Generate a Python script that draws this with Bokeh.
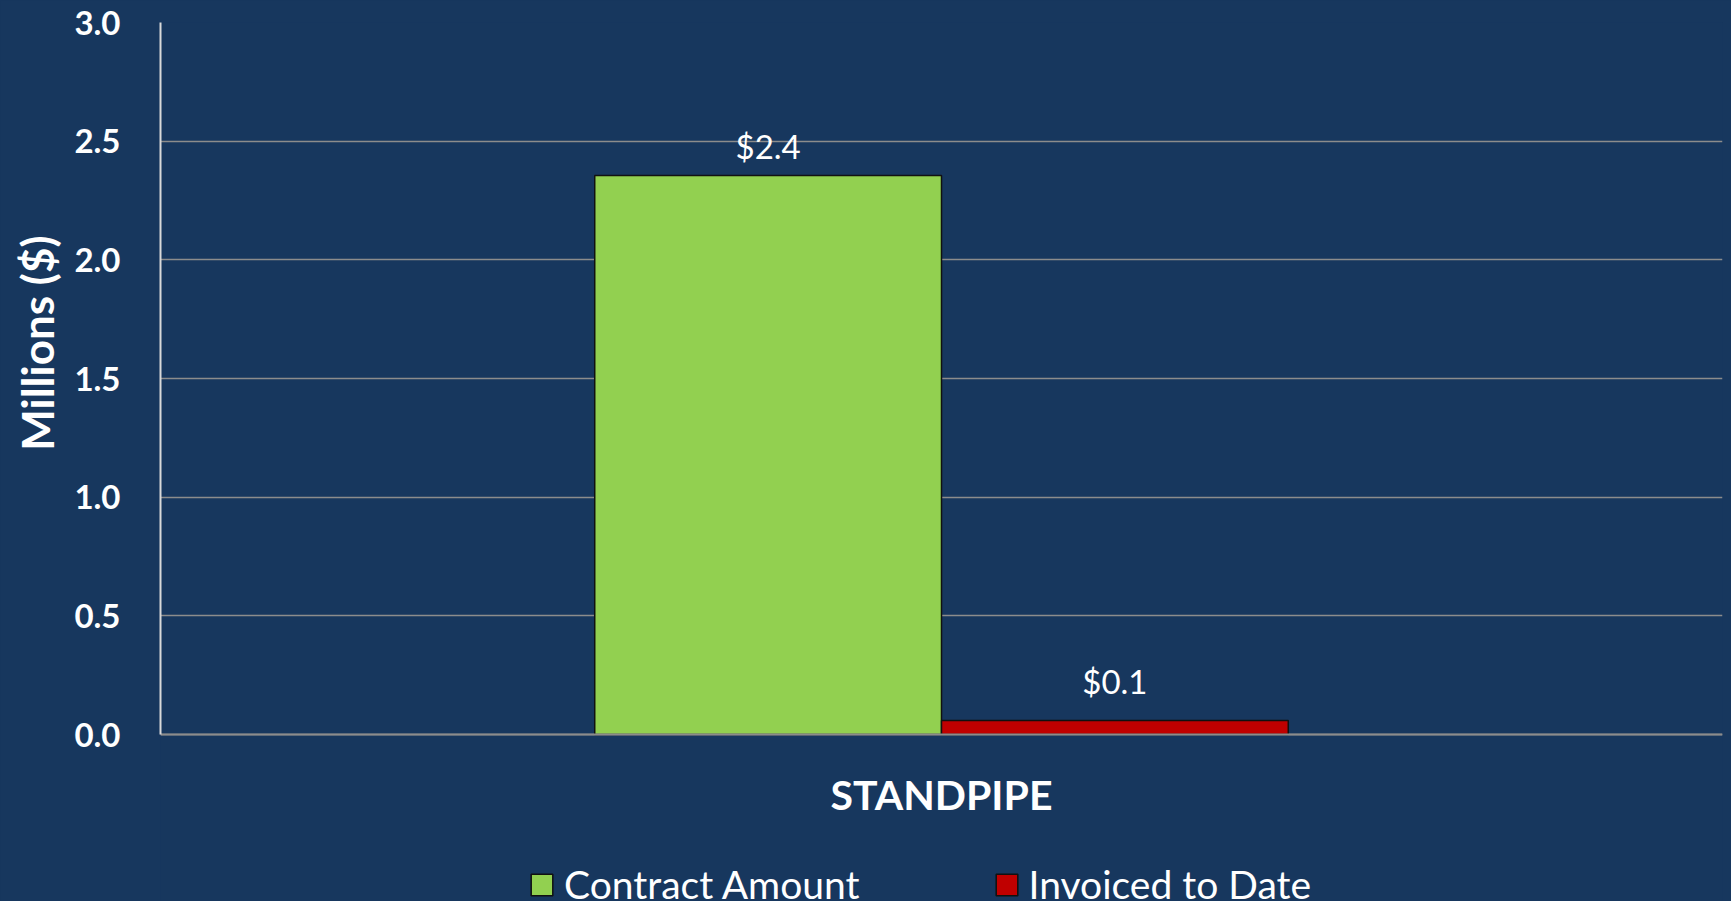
from bokeh.plotting import figure
from bokeh.models import (ColumnDataSource, FactorRange, Range1d, FixedTicker,
                          NumeralTickFormatter, Legend, LegendItem, Title)
from bokeh.transform import dodge
from bokeh.core.properties import value
from bokeh.embed import file_html
from bokeh.resources import INLINE

# ---- data ----
categories = ["STANDPIPE"]
series_names = ["Contract Amount", "Invoiced to Date"]
contract_amount = [2.355]
invoiced_to_date = [0.059]
y_ticks = [0.0, 0.5, 1.0, 1.5, 2.0, 2.5, 3.0]
y_axis_title = "Millions ($)"

# ---- style ----
BG = "#17375E"
GREEN = "#92D050"
RED = "#C00000"
FONT = "Lato"
W, H = 1731, 901
FL, FR, FT = 160, 1722, 22
Y0_PX = 734                      # pixel row of value 0
BAR_W = 0.222
y_top = y_ticks[-1]
px_per_unit = (Y0_PX - FT) / y_top
y_bottom = -(H - Y0_PX) / px_per_unit   # frame continues below the axis to hold the legend

contract_labels = ["$%.1f" % v for v in contract_amount]
invoiced_labels = ["$%.1f" % v for v in invoiced_to_date]

src = ColumnDataSource(dict(cat=categories, contract=contract_amount, invoiced=invoiced_to_date,
                            contract_lbl=contract_labels, invoiced_lbl=invoiced_labels))

p = figure(x_range=FactorRange(factors=categories), y_range=Range1d(y_bottom, y_top),
           width=W, height=H, output_backend="svg", toolbar_location=None,
           min_border_left=FL, min_border_right=W - FR, min_border_top=FT, min_border_bottom=0)
p.background_fill_color = BG
p.border_fill_color = BG
p.outline_line_color = None
p.styles = {"background-color": BG}

r1 = p.vbar(x=dodge("cat", -BAR_W / 2, range=p.x_range), top="contract", width=BAR_W, source=src,
            fill_color=GREEN, line_color="#111111", line_width=1.5)
r2 = p.vbar(x=dodge("cat", BAR_W / 2, range=p.x_range), top="invoiced", width=BAR_W, source=src,
            fill_color=RED, line_color="#111111", line_width=1.5)

p.text(x=dodge("cat", -BAR_W / 2, range=p.x_range), y="contract", text="contract_lbl", source=src,
       text_align="center", text_baseline="alphabetic", y_offset=-30,
       text_font=value(FONT), text_font_size="33px", text_color="white")
p.text(x=dodge("cat", BAR_W / 2, range=p.x_range), y="invoiced", text="invoiced_lbl", source=src,
       text_align="center", text_baseline="alphabetic", y_offset=-39,
       text_font=value(FONT), text_font_size="33px", text_color="white")

# axes
p.yaxis.ticker = FixedTicker(ticks=y_ticks)
p.yaxis.bounds = (0, y_top)
p.yaxis.formatter = NumeralTickFormatter(format="0.0")
p.yaxis.major_label_text_font = FONT
p.yaxis.major_label_text_font_size = "33px"
p.yaxis.major_label_text_font_style = "bold"
p.yaxis.major_label_text_color = "white"
p.yaxis.major_tick_out = 0
p.yaxis.major_tick_in = 0
p.yaxis.minor_tick_out = 0
p.yaxis.minor_tick_in = 0
p.yaxis.major_label_standoff = 40
p.yaxis.axis_line_color = "#D9D9D9"
p.yaxis.axis_line_width = 2

p.xaxis.fixed_location = 0
p.xaxis.major_label_text_font = FONT
p.xaxis.major_label_text_font_size = "41px"
p.xaxis.major_label_text_font_style = "bold"
p.xaxis.major_label_text_color = "white"
p.xaxis.major_tick_out = 0
p.xaxis.major_tick_in = 0
p.xaxis.major_label_standoff = 35
p.xaxis.axis_line_color = "#8C8C8C"
p.xaxis.axis_line_width = 2

p.xgrid.grid_line_color = None
p.ygrid.ticker = FixedTicker(ticks=y_ticks)
p.ygrid.grid_line_color = "#8C8C8C"
p.ygrid.grid_line_width = 1.5

ytitle = Title(text=y_axis_title, align="right", offset=213, standoff=13, vertical_align="top",
               text_font=FONT, text_font_size="44px", text_font_style="bold", text_color="white")
p.add_layout(ytitle, "left")

legend = Legend(items=[LegendItem(label=series_names[0], renderers=[r1]),
                       LegendItem(label=series_names[1], renderers=[r2])],
                orientation="horizontal", location=(531 - FL - 3, -6),
                glyph_width=27, glyph_height=27, label_standoff=9, spacing=133,
                padding=0, margin=0, border_line_color=None, background_fill_alpha=0,
                label_text_font=FONT, label_text_font_size="39px", label_text_color="white")
p.add_layout(legend)

open("out.html", "w").write(file_html(p, INLINE))
